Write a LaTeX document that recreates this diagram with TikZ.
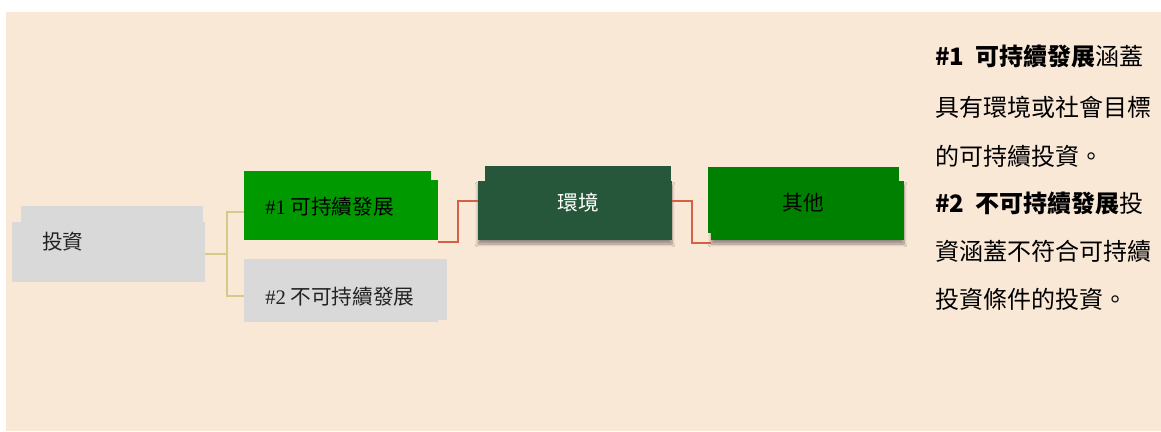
\documentclass[tikz,border=0pt]{standalone}
\usepackage{fontspec}
\setmainfont{Noto Sans CJK TC}
\newfontfamily\cjk{Noto Sans CJK TC}
\newfontfamily\latinserif{Liberation Serif}
\usetikzlibrary{shadows.blur}
\definecolor{bgpeach}{RGB}{250,232,215}
\definecolor{boxgray}{RGB}{217,217,217}
\definecolor{greenA}{RGB}{0,153,0}
\definecolor{greenB}{RGB}{38,87,58}
\definecolor{greenC}{RGB}{0,128,0}
\definecolor{olive}{RGB}{214,202,136}
\definecolor{redline}{RGB}{212,96,70}
\definecolor{txtgray}{RGB}{34,34,34}
\tikzset{
  px/.style={x=0.75pt,y=-0.75pt},
  olivelink/.style={draw=olive,line width=1.8pt},
  redlink/.style={draw=redline,line width=1.8pt},
  nodetext/.style={font=\fontsize{15.5}{18}\selectfont,inner sep=0pt},
  sidetext/.style={font=\fontsize{18}{21}\selectfont,inner sep=0pt,anchor=west,text=black},
  shadowed/.style={blur shadow={shadow xshift=0pt,shadow yshift=-3pt,shadow blur steps=8,shadow opacity=40}}
}
\begin{document}
\begin{tikzpicture}[px]
\useasboundingbox (0,0) rectangle (1161,432);
\fill[bgpeach] (6,12) rectangle (1161,431);

% 投資
\fill[boxgray] (21,206) rectangle (203,280);
\fill[boxgray] (12,222) rectangle (205,282);
\coordinate (invR) at (205,254);
\node[nodetext,anchor=west,text=txtgray] (inv) at (42,242) {投資};

% #1
\fill[greenA] (244,171) rectangle (431,236);
\fill[greenA] (244,180) rectangle (438,240);
\coordinate (s1L) at (244,212);
\coordinate (s1R) at (438,242);
\node[nodetext,anchor=west,text=black] (s1) at (265,207) {{\latinserif \#1} 可持續發展};

% #2
\fill[boxgray] (244,259) rectangle (447,320);
\fill[boxgray] (244,259) rectangle (438,322);
\coordinate (s2L) at (244,296);
\node[nodetext,anchor=west,text=txtgray] (s2) at (265,297) {{\latinserif \#2} 不可持續發展};

% 環境
\fill[greenB,shadowed] (478,181) rectangle (672,240);
\fill[greenB] (485,166) rectangle (671,200);
\coordinate (envL) at (478,201);
\coordinate (envR) at (672,201);
\node[nodetext,text=white] (env) at (578,203) {環境};

% 其他
\fill[greenC,shadowed] (711,181) rectangle (904,240);
\fill[greenC] (708,167) rectangle (899,233);
\coordinate (othL) at (711,243);
\node[nodetext,text=black] (oth) at (803,203) {其他};

% connectors
\draw[olivelink] (invR) -- (227,254) |- (s1L);
\draw[olivelink] (227,254) |- (s2L);
\draw[redlink] (s1R) -- (458,242) |- (envL);
\draw[redlink] (envR) -- (692,201) |- (othL);

% side text
\node[sidetext] (t1) at (935,56) {\textbf{\#1\ \ 可持續發展}涵蓋};
\node[sidetext] (t2) at (935,107) {具有環境或社會目標};
\node[sidetext] (t3) at (935,156) {的可持續投資。};
\node[sidetext] (t4) at (935,203) {\textbf{\#2\ \ 不可持續發展}投};
\node[sidetext] (t5) at (935,251) {資涵蓋不符合可持續};
\node[sidetext] (t6) at (935,299) {投資條件的投資。};
\end{tikzpicture}
\end{document}
